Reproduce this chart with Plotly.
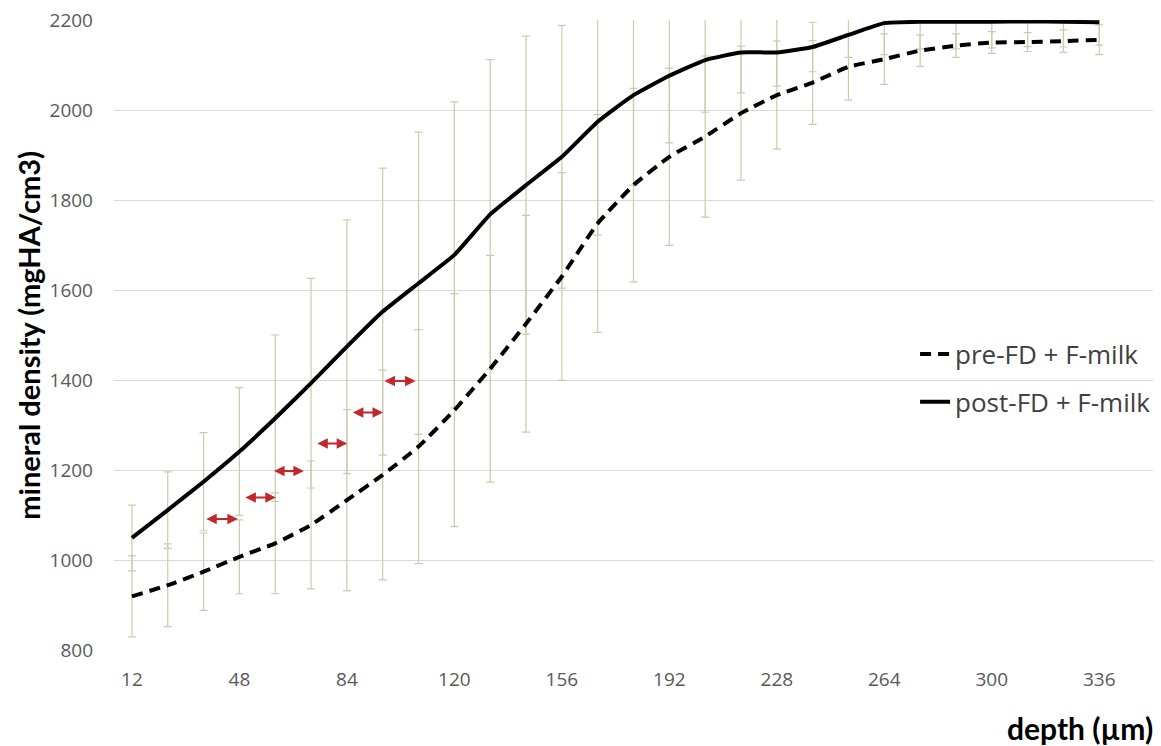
import plotly.graph_objects as go

# ---- data ----
depth = [12, 24, 36, 48, 60, 72, 84, 96, 108, 120, 132, 144, 156, 168,
         180, 192, 204, 216, 228, 240, 252, 264, 276, 288, 300, 312, 324, 336]

pre_fd = [919, 944, 974, 1007, 1037, 1078, 1133, 1189, 1252, 1333, 1425, 1525, 1630, 1748,
          1833, 1896, 1941, 1993, 2033, 2061, 2096, 2113, 2132, 2143, 2150, 2151, 2153, 2156]
pre_err = [90, 92, 86, 82, 112, 142, 201, 233, 260, 259, 252, 241, 231, 242,
           215, 197, 179, 149, 120, 93, 74, 56, 35, 26, 24, 21, 25, 33]

post_fd = [1049, 1111, 1174, 1241, 1315, 1393, 1474, 1552, 1615, 1678, 1768, 1833, 1896, 1974,
           2033, 2076, 2111, 2128, 2128, 2140, 2167, 2193, 2196, 2196, 2196, 2197, 2196, 2195]
post_err = [73, 85, 109, 142, 185, 233, 282, 319, 336, 340, 344, 331, 292, 252,
            200, 149, 116, 90, 75, 55, 50, 70, 60, 60, 58, 56, 56, 51]

x_ticks = [12, 48, 84, 120, 156, 192, 228, 264, 300, 336]
y_ticks = [800, 1000, 1200, 1400, 1600, 1800, 2000, 2200]

# red double-headed arrows (start depth, end depth, density)
arrow_x0 = [36.4, 49.5, 59.1, 73.6, 85.5, 96.1]
arrow_x1 = [47.5, 60.2, 69.6, 84.1, 96.1, 107.0]
arrow_y = [1091, 1139, 1198, 1259, 1328, 1398]

ERR_COLOR = "#cbcbab"
TEXT_FONT = "Open Sans"
BOLD_FONT = "Lato"

fig = go.Figure()

# error bars (drawn first so lines sit on top)
for vals, errs in ((pre_fd, pre_err), (post_fd, post_err)):
    fig.add_trace(go.Scatter(
        x=depth, y=vals, mode="markers",
        marker=dict(size=1, color="rgba(0,0,0,0)"),
        error_y=dict(type="data", array=errs, visible=True,
                     color=ERR_COLOR, thickness=1.2, width=4),
        showlegend=False, hoverinfo="skip",
    ))

fig.add_trace(go.Scatter(
    x=depth, y=pre_fd, mode="lines", name="pre-FD + F-milk",
    line=dict(color="black", width=4, dash="11px,7px", shape="spline", smoothing=0.4),
    legend="legend",
))
fig.add_trace(go.Scatter(
    x=depth, y=post_fd, mode="lines", name="post-FD + F-milk",
    line=dict(color="black", width=4, shape="spline", smoothing=0.4),
    legend="legend2",
))

for x0, x1, y in zip(arrow_x0, arrow_x1, arrow_y):
    fig.add_annotation(
        x=x1, y=y, ax=x0, ay=y, xref="x", yref="y", axref="x", ayref="y",
        text="", showarrow=True, arrowhead=2, arrowside="end+start",
        arrowsize=1.05, arrowwidth=2, arrowcolor="#c1272d",
    )

# axis titles as annotations
fig.add_annotation(
    text="<b>mineral density (mgHA/cm3)</b>", xref="paper", yref="paper",
    x=-0.083, y=0.5, xanchor="center", yanchor="middle", textangle=-90,
    showarrow=False, font=dict(family=BOLD_FONT, size=29, color="black"),
)
fig.add_annotation(
    text="<b>depth (µm)</b>", xref="paper", yref="paper",
    x=1.002, y=-0.124, xanchor="right", yanchor="middle",
    showarrow=False, font=dict(family=BOLD_FONT, size=30, color="black"),
)

legend_common = dict(
    xanchor="left", yanchor="middle", bgcolor="rgba(0,0,0,0)",
    font=dict(family=TEXT_FONT, size=26, color="#404040"), borderwidth=0,
)
# the page body adds an 8px offset, so the figure is 8px smaller and margins 8px tighter
fig.update_layout(
    width=1153, height=738,
    margin=dict(l=106, r=8, t=12, b=96, autoexpand=False),
    plot_bgcolor="white", paper_bgcolor="white",
    legend=dict(x=0.771, y=0.4698, **legend_common),
    legend2=dict(x=0.771, y=0.3937, **legend_common),
    xaxis=dict(
        range=[6, 354], tickmode="array", tickvals=x_ticks,
        ticktext=[str(v) for v in x_ticks], showgrid=False, zeroline=False,
        showline=False, ticks="", ticklabelstandoff=16, automargin=False,
        tickfont=dict(family=TEXT_FONT, size=19, color="#595959"),
    ),
    yaxis=dict(
        range=[800, 2200], tickmode="array", tickvals=y_ticks,
        showgrid=True, gridcolor="#d9d9d9", gridwidth=1.3, zeroline=False,
        showline=False, ticks="", ticklabelstandoff=20, ticklabeloverflow="allow",
        automargin=False,
        tickfont=dict(family=TEXT_FONT, size=19, color="#595959"),
    ),
)

fig.write_html("out.html")
